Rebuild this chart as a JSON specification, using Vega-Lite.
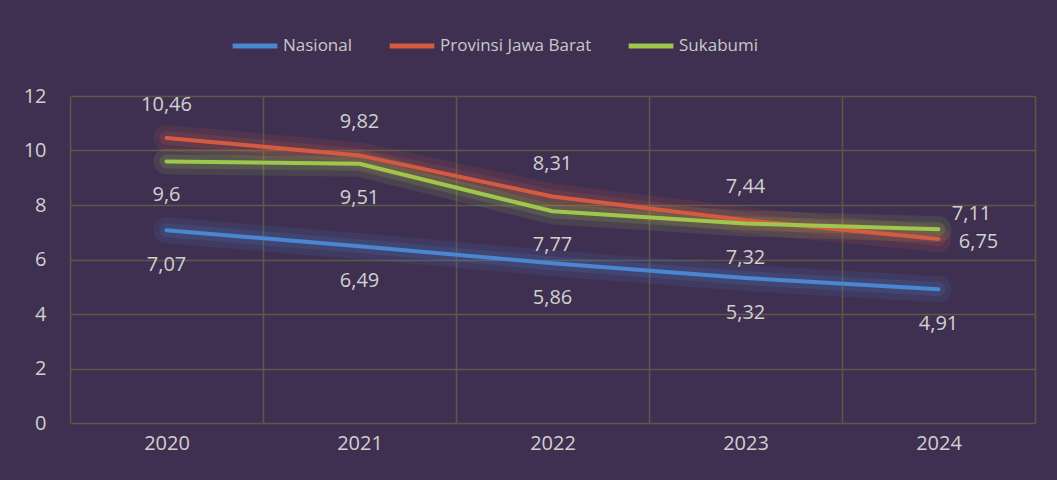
{
  "$schema": "https://vega.github.io/schema/vega-lite/v6.json",
  "autosize": "none",
  "width": 965,
  "height": 327,
  "padding": {"left": 70, "top": 96, "right": 22, "bottom": 57},
  "background": "#3f3051",
  "config": {
    "view": {"stroke": null},
    "font": "Open Sans"
  },
  "data": {
    "values": [
      {"year": "2020", "series": "Nasional", "value": 7.07, "label": "7,07"},
      {"year": "2021", "series": "Nasional", "value": 6.49, "label": "6,49"},
      {"year": "2022", "series": "Nasional", "value": 5.86, "label": "5,86"},
      {"year": "2023", "series": "Nasional", "value": 5.32, "label": "5,32"},
      {"year": "2024", "series": "Nasional", "value": 4.91, "label": "4,91"},
      {"year": "2020", "series": "Provinsi Jawa Barat", "value": 10.46, "label": "10,46"},
      {"year": "2021", "series": "Provinsi Jawa Barat", "value": 9.82, "label": "9,82"},
      {"year": "2022", "series": "Provinsi Jawa Barat", "value": 8.31, "label": "8,31"},
      {"year": "2023", "series": "Provinsi Jawa Barat", "value": 7.44, "label": "7,44"},
      {"year": "2024", "series": "Provinsi Jawa Barat", "value": 6.75, "label": "6,75"},
      {"year": "2020", "series": "Sukabumi", "value": 9.6, "label": "9,6"},
      {"year": "2021", "series": "Sukabumi", "value": 9.51, "label": "9,51"},
      {"year": "2022", "series": "Sukabumi", "value": 7.77, "label": "7,77"},
      {"year": "2023", "series": "Sukabumi", "value": 7.32, "label": "7,32"},
      {"year": "2024", "series": "Sukabumi", "value": 7.11, "label": "7,11"}
    ]
  },
  "encoding": {
    "x": {"field": "year", "type": "ordinal", "scale": {"paddingInner": 0, "paddingOuter": 0}, "axis": {"title": null, "labelAngle": 0, "tickBand": "extent", "grid": true, "domain": false, "ticks": false, "gridColor": "#5c5848", "gridWidth": 1.5, "labelColor": "#d0d0d0", "labelFontSize": 20, "labelFont": "Open Sans", "labelPadding": 10}},
    "y": {"field": "value", "type": "quantitative", "scale": {"domain": [0, 12], "nice": false}, "axis": {"title": null, "values": [0, 2, 4, 6, 8, 10, 12], "grid": true, "domain": false, "ticks": false, "gridColor": "#5c5848", "gridWidth": 1.5, "labelColor": "#d0d0d0", "labelFontSize": 20, "labelFont": "Open Sans", "labelPadding": 24, "labelOverlap": false}},
    "color": {"field": "series", "type": "nominal", "scale": {"domain": ["Nasional", "Provinsi Jawa Barat", "Sukabumi"], "range": ["#4a86d2", "#d65a42", "#9ec84c"]}, "legend": {"title": null, "orient": "none", "legendX": 160, "legendY": -75, "direction": "horizontal", "symbolType": "stroke", "symbolSize": 2000, "symbolStrokeWidth": 5, "symbolOpacity": 1, "labelFontSize": 17, "labelColor": "#c8c8c8", "labelFont": "Open Sans", "labelLimit": 400, "columnPadding": 26, "labelOffset": 3}}
  },
  "layer": [
    {
      "mark": {"type": "line", "strokeWidth": 26, "opacity": 0.12, "strokeCap": "round"}
    },
    {
      "mark": {"type": "line", "strokeWidth": 14, "opacity": 0.15, "strokeCap": "round"}
    },
    {
      "mark": {"type": "line", "strokeWidth": 4, "strokeCap": "round"}
    },
    {
      "transform": [{"filter": "datum.series == 'Provinsi Jawa Barat' && datum.year != '2024'"}],
      "mark": {"type": "text", "dy": -33, "fontSize": 20},
      "encoding": {"text": {"field": "label"}, "color": {"value": "#d0d0d0"}}
    },
    {
      "transform": [{"filter": "datum.series == 'Provinsi Jawa Barat' && datum.year == '2024'"}],
      "mark": {"type": "text", "dx": 40, "dy": 3, "fontSize": 20},
      "encoding": {"text": {"field": "label"}, "color": {"value": "#d0d0d0"}}
    },
    {
      "transform": [{"filter": "datum.series == 'Sukabumi' && datum.year != '2024'"}],
      "mark": {"type": "text", "dy": 34, "fontSize": 20},
      "encoding": {"text": {"field": "label"}, "color": {"value": "#d0d0d0"}}
    },
    {
      "transform": [{"filter": "datum.series == 'Sukabumi' && datum.year == '2024'"}],
      "mark": {"type": "text", "dx": 33, "dy": -15, "fontSize": 20},
      "encoding": {"text": {"field": "label"}, "color": {"value": "#d0d0d0"}}
    },
    {
      "transform": [{"filter": "datum.series == 'Nasional'"}],
      "mark": {"type": "text", "dy": 35, "fontSize": 20},
      "encoding": {"text": {"field": "label"}, "color": {"value": "#d0d0d0"}}
    }
  ]
}
